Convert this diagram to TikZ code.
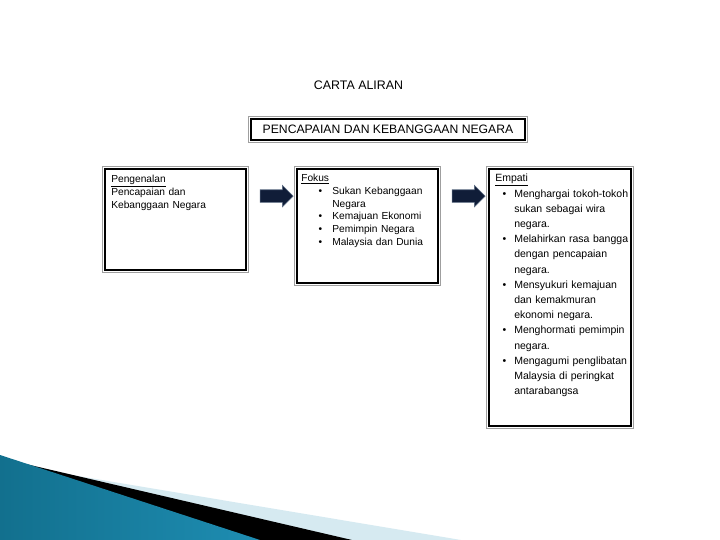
\documentclass[tikz,border=0pt]{standalone}
\usepackage{fontspec}
\setmainfont{Liberation Sans}
\usepackage{enumitem}
\usetikzlibrary{shapes.arrows,calc}
\definecolor{tealdark}{HTML}{12708E}
\definecolor{teallight}{HTML}{4BAFD3}
\definecolor{tealmid}{HTML}{1E8DB2}
\definecolor{paleband}{HTML}{D6EAF1}
\definecolor{navyarrow}{HTML}{101D38}
\definecolor{slaterim}{HTML}{5B6B82}
\setlist[itemize]{label=\textbullet,topsep=0pt,partopsep=0pt,itemsep=0pt,parsep=0pt}
\begin{document}
\begin{tikzpicture}[x=1pt,y=-1pt,
  panel/.style={draw=black,line width=1.8pt,inner sep=0pt},
  rim/.style={draw=gray!75,line width=1.1pt},
  note/.style={anchor=north west,inner sep=0pt,text width=140pt,align=left,font=\fontsize{10.2}{12.7}\selectfont},
  bignote/.style={note,font=\fontsize{10.5}{15.2}\selectfont},
  flow/.style={single arrow,single arrow head extend=4.5pt,fill=navyarrow,draw=slaterim,line width=.6pt,minimum height=33pt,inner xsep=0pt,inner ysep=6pt}]
\useasboundingbox[fill=white] (0,0) rectangle (720,540);
\fill[paleband] (0,463) -- (461,540) -- (0,540) -- cycle;
\fill[black] (0,458) -- (352,540) -- (0,540) -- cycle;
\shade[left color=tealdark,middle color=teallight,right color=tealmid] (0,455) -- (260,540) -- (0,540) -- cycle;
\node[font=\fontsize{12.4}{14}\selectfont] (chart) at (358.5,85) {CARTA ALIRAN};
\node[panel,minimum width=274pt,minimum height=21pt,font=\fontsize{12.2}{14}\selectfont] (theme) at (388,129.5) {PENCAPAIAN DAN KEBANGGAAN NEGARA};
\node[panel,minimum width=141pt,minimum height=101pt] (intro) at (175.5,219.5) {};
\node[panel,minimum width=141pt,minimum height=114pt] (focus) at (367.5,226) {};
\node[panel,minimum width=142pt,minimum height=257pt] (insight) at (560,297.5) {};
\foreach \b in {theme,intro,focus,insight}
  \draw[rim] ([shift={(-2pt,2pt)}]\b.north west) rectangle ([shift={(2pt,-2pt)}]\b.south east);
\node[note] (introtxt) at ([shift={(7pt,-7pt)}]intro.north west) {\underline{Pengenalan}\\Pencapaian dan\\Kebanggaan Negara};
\node[note] (focustxt) at ([shift={(5pt,-6pt)}]focus.north west) {\underline{Fokus}
  \begin{itemize}[leftmargin=31pt,labelsep=10pt]
  \item Sukan Kebanggaan\\Negara
  \item Kemajuan Ekonomi
  \item Pemimpin Negara
  \item Malaysia dan Dunia
  \end{itemize}};
\node[bignote] (insighttxt) at ([shift={(7pt,-6pt)}]insight.north west) {\underline{Empati}
  \begin{itemize}[leftmargin=19pt,labelsep=8pt]
  \item Menghargai tokoh-tokoh\\sukan sebagai wira\\negara.
  \item Melahirkan rasa bangga\\dengan pencapaian\\negara.
  \item Mensyukuri kemajuan\\dan kemakmuran\\ekonomi negara.
  \item Menghormati pemimpin\\negara.
  \item Mengagumi penglibatan\\Malaysia di peringkat\\antarabangsa
  \end{itemize}};
\node[flow] (arrA) at ($(intro.north east)!.5!(focus.north west)+(2,28)$) {};
\node[flow] (arrB) at ($(focus.north east)!.5!(insight.north west)+(2,28)$) {};
\end{tikzpicture}
\end{document}
